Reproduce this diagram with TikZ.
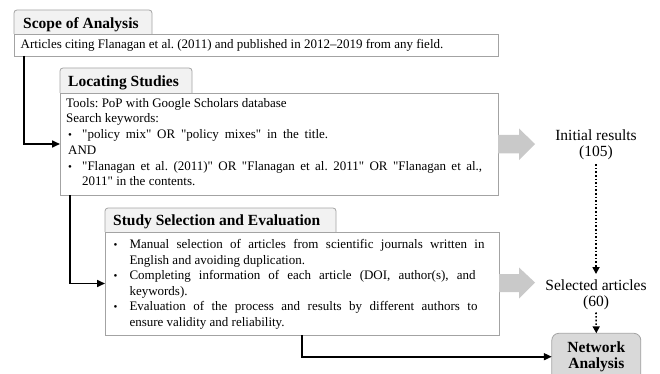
\documentclass[tikz,border=0pt]{standalone}
\usepackage{fontspec}
\newfontfamily\docfont{Liberation Serif}
\usetikzlibrary{arrows.meta,calc}
\definecolor{bordergray}{HTML}{A3A3A3}
\definecolor{tabfill}{HTML}{F2F2F2}
\definecolor{netfill}{HTML}{D9D9D9}
\definecolor{arrowfill}{HTML}{C9C9C9}
\tikzset{
  emptybox/.style={inner sep=0pt, outer sep=0pt},
  tabshape/.style={fill=tabfill, draw=bordergray, line width=0.8pt, rounded corners=3pt},
  bodybox/.style={draw=bordergray, fill=white, line width=0.8pt, inner sep=0pt, outer sep=0pt},
  headtext/.style={anchor=base west, inner sep=0pt, font=\docfont\fontsize{15.5}{17}\selectfont\bfseries},
  bodytext/.style={anchor=base west, inner sep=0pt, font=\docfont\frenchspacing\fontsize{13}{15}\selectfont},
  bul/.style={anchor=base west, inner sep=0pt, font=\docfont\fontsize{11}{11}\selectfont},
  labeltext/.style={anchor=base, inner sep=0pt, font=\docfont\fontsize{15.5}{17}\selectfont},
  netbox/.style={draw=bordergray, fill=netfill, line width=0.8pt, rounded corners=7pt, inner sep=0pt, outer sep=0pt},
  conn/.style={line width=1.6pt, -{Triangle[length=8pt,width=7pt]}},
  dotconn/.style={line width=1.6pt, dotted, -{Triangle[length=7pt,width=7pt]}},
  grayarrow/.style={fill=arrowfill}
}
\begin{document}
\frenchspacing
\begin{tikzpicture}[x=1pt,y=-1pt]
\useasboundingbox (0,0) rectangle (660,374);

% Scope of Analysis
\node[emptybox, minimum width=138, minimum height=24] (scopetab) at (83,22) {};
\path[tabshape] (scopetab.south west) -- (scopetab.north west) -- (scopetab.north east) -- (scopetab.south east);
\node[bodybox, minimum width=484, minimum height=22] (scopebody) at (256,45) {};
\node[headtext] (scopehead) at (23,28.3) {Scope of Analysis};
\node[bodytext] (s1) at (20.5,49) {Articles citing Flanagan et al. (2011) and published in 2012–2019 from any field.};

% Locating Studies
\node[emptybox, minimum width=132, minimum height=25] (loctab) at (126,80.5) {};
\path[tabshape] (loctab.south west) -- (loctab.north west) -- (loctab.north east) -- (loctab.south east);
\node[bodybox, minimum width=438, minimum height=102] (locbody) at (279,144) {};
\node[headtext] (lochead) at (68,86.7) {Locating Studies};
\node[bodytext] (l1) at (66,107.7) {Tools: PoP with Google Scholars database};
\node[bodytext] (l2) at (66,122.9) {Search keywords:};
\node[bul] (lb1) at (68,138.4) {\textbullet};
\node[bodytext] (l3) at (82,138.4) {\makebox[246pt][s]{"policy mix" OR "policy mixes" in the title.}};
\node[bodytext] (l4) at (68,154) {AND};
\node[bul] (lb2) at (68,170) {\textbullet};
\node[bodytext] (l5) at (82,170) {\makebox[400pt][s]{"Flanagan et al. (2011)" OR "Flanagan et al. 2011" OR "Flanagan et al.,}};
\node[bodytext] (l6) at (82,185.8) {2011" in the contents.};

% Study Selection and Evaluation
\node[emptybox, minimum width=231, minimum height=24] (seltab) at (220.5,220) {};
\path[tabshape] (seltab.south west) -- (seltab.north west) -- (seltab.north east) -- (seltab.south east);
\node[bodybox, minimum width=394, minimum height=103] (selbody) at (302,283.5) {};
\node[headtext] (selhead) at (113,225.7) {Study Selection and Evaluation};
\node[bul] (sb1) at (113.3,248.3) {\textbullet};
\node[bodytext] (e1) at (129.3,248.3) {\makebox[355pt][s]{Manual selection of articles from scientific journals written in}};
\node[bodytext] (e2) at (129.3,264) {English and avoiding duplication.};
\node[bul] (sb2) at (113.3,279.5) {\textbullet};
\node[bodytext] (e3) at (129.3,279.5) {\makebox[346pt][s]{Completing information of each article (DOI, author(s), and}};
\node[bodytext] (e4) at (129.3,295) {keywords).};
\node[bul] (sb3) at (113.3,310.7) {\textbullet};
\node[bodytext] (e5) at (129.3,310.7) {\makebox[348pt][s]{Evaluation of the process and results by different authors to}};
\node[bodytext] (e6) at (129.3,326.3) {ensure validity and reliability.};

% Right column
\node[labeltext] (init) at (596,140.7) {Initial results};
\node[labeltext] (initn) at (596,156.7) {(105)};
\node[labeltext] (sel) at (596,290) {Selected articles};
\node[labeltext] (seln) at (596,306) {(60)};
\node[netbox, minimum width=89, minimum height=50] (net) at (596.3,358.3) {};
\node[labeltext, font=\docfont\fontsize{15.5}{17}\selectfont\bfseries] (netl1) at (596.3,352.7) {Network};
\node[labeltext, font=\docfont\fontsize{15.5}{17}\selectfont\bfseries] (netl2) at (596.3,368.5) {Analysis};

% Gray arrows
\fill[grayarrow] ($(locbody.east)+(0,-9)$) -- ++(21,0) -- ++(0,-6.5) -- ++(16,15.5) -- ++(-16,16) -- ++(0,-6.5) -- ++(-21,0) -- cycle;
\fill[grayarrow] ($(selbody.east)+(0,-9.5)$) -- ++(20,0) -- ++(0,-6.5) -- ++(16,15) -- ++(-16,16) -- ++(0,-6.5) -- ++(-20,0) -- cycle;

% Connectors
\draw[conn] ($(scopebody.south west)+(10,0)$) |- (locbody.west);
\draw[conn] ($(locbody.south west)+(10,0)$) |- (selbody.west);
\draw[conn] (selbody.south) |- ($(net.west)+(0,-1.6)$);
\draw[dotconn] ($(initn.south)+(0,4)$) -- ($(sel.north)+(0,-5)$);
\draw[dotconn] ($(seln.south)+(0,3)$) -- (net.north);
\end{tikzpicture}
\end{document}
